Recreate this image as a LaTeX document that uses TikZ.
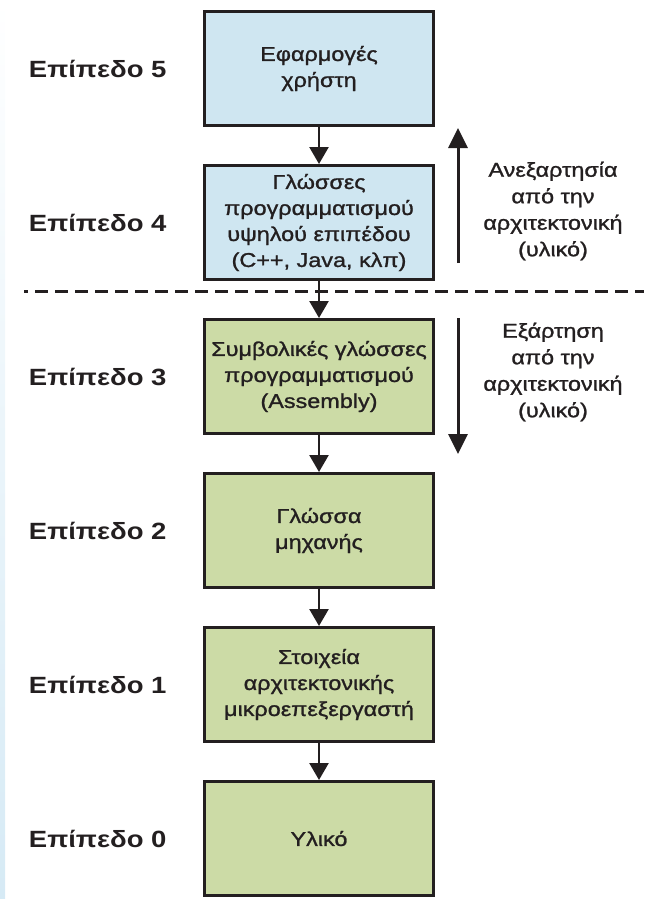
\documentclass[tikz,border=0pt]{standalone}
\usepackage{fontspec}
\setmainfont{Liberation Sans}[FakeStretch=1.17]
\newfontfamily\myheavy{Liberation Sans}[FakeStretch=1.17, FakeBold=1.2]
\usepackage{tikz}
\usetikzlibrary{arrows.meta,positioning}
\definecolor{myskyblue}{RGB}{207,230,241}
\definecolor{myolive}{RGB}{204,219,166}
\definecolor{myborder}{RGB}{35,31,32}
\definecolor{mystrip}{RGB}{214,234,245}

\begin{document}
\begin{tikzpicture}[
  x=1pt,
  y=-1pt,
  mybox/.style={
    draw=myborder,
    line width=3pt,
    fill=#1,
    text=myborder,
    minimum width=229pt,
    minimum height=114pt,
    align=center,
    font=\myheavy\fontsize{20}{26}\selectfont
    },
  mylevel/.style={
    text=myborder,
    font=\fontsize{23.5}{28}\selectfont\bfseries
    },
  mynote/.style={
    text=myborder,
    align=center,
    font=\myheavy\fontsize{20}{26.5}\selectfont
    },
  myarrow/.style={
    line width=2.5pt,
    draw=myborder,
    -{Triangle[width=19pt,length=17pt]}
    },
  mybigarrow/.style={
    line width=3pt,
    draw=myborder,
    -{Triangle[width=19pt,length=20pt]}
    }
]
\useasboundingbox (0,0) rectangle (667,899);
\shade[top color=white, bottom color=mystrip] (0,0) rectangle (5,899);

% the six levels
\node[mybox=myskyblue] (box5) at (319,68.5) {Εφαρμογές\\χρήστη};
\node[mybox=myskyblue, below=37pt of box5] (box4)
  {Γλώσσες\\προγραμματισμού\\υψηλού επιπέδου\\(C++, Java, κλπ)};
\node[mybox=myolive, below=37pt of box4] (box3)
  {Συμβολικές γλώσσες\\προγραμματισμού\\(Assembly)};
\node[mybox=myolive, below=37pt of box3] (box2) {Γλώσσα\\μηχανής};
\node[mybox=myolive, below=37pt of box2] (box1)
  {Στοιχεία\\αρχιτεκτονικής\\μικροεπεξεργαστή};
\node[mybox=myolive, below=37pt of box1] (box0) {Υλικό};

\foreach \Nivel in {0,...,5}
  \node[mylevel, left=33pt of box\Nivel] (level\Nivel) {Επίπεδο \Nivel};

% dashed border between 4 and 3
\coordinate (dashL) at (24,291);
\coordinate (dashR) at (644,291);
\draw[myborder, line width=3pt, dash pattern=on 13pt off 7pt, dash phase=9pt] (dashL) -- (dashR);

\foreach \Upper [count=\Lower from 0] in {1,...,5}
  \draw[myarrow] (box\Upper) -- (box\Lower);

% side notes
\coordinate (upS) at (458,263);
\coordinate (upE) at (458,128);
\coordinate (downS) at (458,318);
\coordinate (downE) at (458,454);
\draw[mybigarrow] (upS) -- (upE);
\draw[mybigarrow] (downS) -- (downE);
\node[mynote] (indep) at (553,211) {Ανεξαρτησία\\από την\\αρχιτεκτονική\\(υλικό)};
\node[mynote] (dep) at (553,372) {Εξάρτηση\\από την\\αρχιτεκτονική\\(υλικό)};

\end{tikzpicture}
\end{document}
